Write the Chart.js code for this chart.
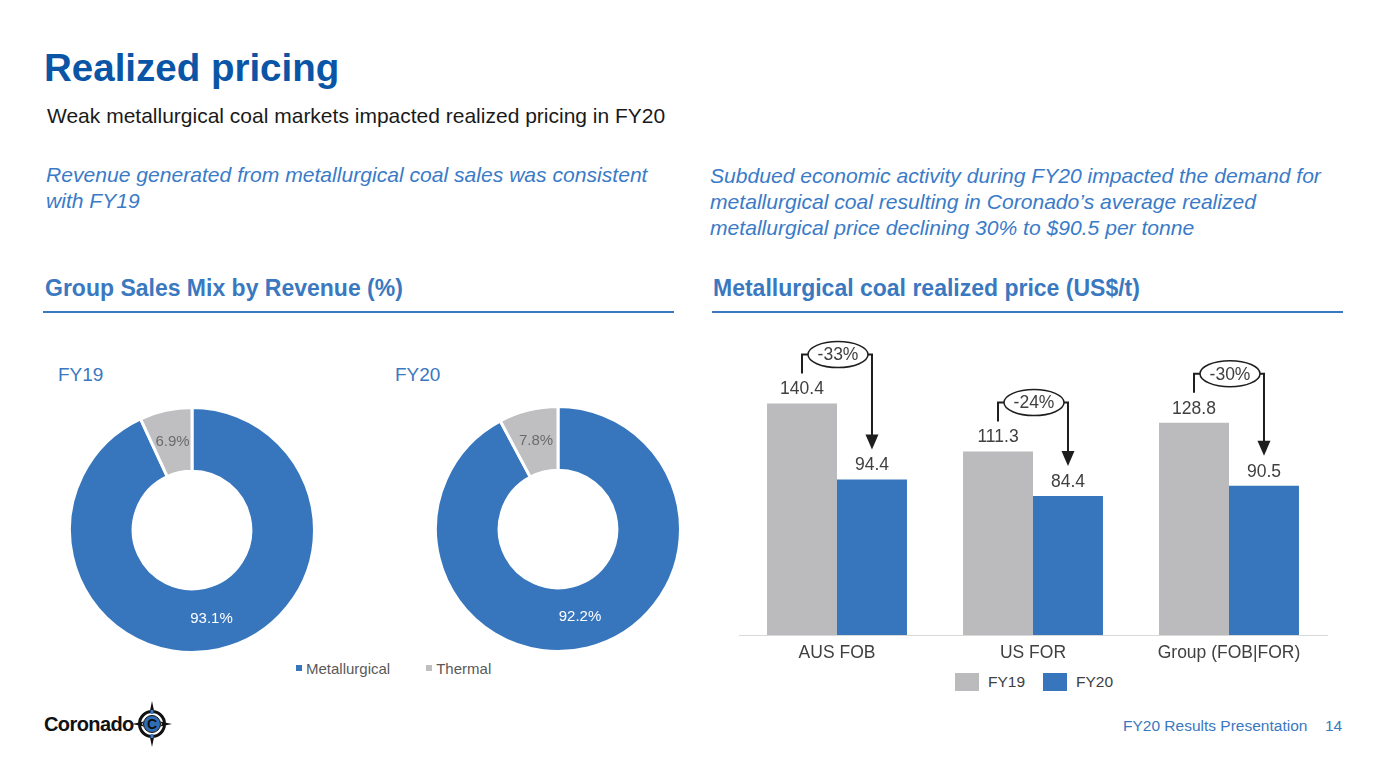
<!DOCTYPE html>
<html>
<head>
<meta charset="utf-8">
<script src="https://cdn.jsdelivr.net/npm/chart.js@4"></script>
<style>
  body { margin: 0; width: 1386px; height: 780px; background: #fff; font-family: "Liberation Sans", Arial, sans-serif; position: relative; overflow: hidden; }
  .abs { position: absolute; white-space: nowrap; }
  .title { left: 44px; top: 46px; font-size: 38.5px; font-weight: bold; color: #0b55a6; }
  .sub { left: 47px; top: 104px; font-size: 21px; color: #1a1a1a; }
  .ital { font-size: 21.1px; font-style: italic; color: #3a7bc8; line-height: 25.8px; white-space: normal; }
  .hdr { font-size: 23px; font-weight: bold; color: #3a78c0; }
  .rule { height: 2px; background: #3a78c0; }
  .fy { font-size: 19px; color: #3a78c0; }
  .leg { font-size: 15px; color: #595959; }
  .leg i { display: inline-block; width: 6px; height: 6px; margin-right: 4px; vertical-align: 3px; }
  .leg2 { font-size: 15.5px; color: #404040; display: flex; align-items: center; }
  .leg2 i { display: inline-block; width: 24px; height: 18px; margin-right: 9px; }
  .foot { font-size: 15.5px; color: #3a78c0; }
</style>
</head>
<body>
<div class="abs title">Realized pricing</div>
<div class="abs sub">Weak metallurgical coal markets impacted realized pricing in FY20</div>
<div class="abs ital" style="left:46px; top:162px; width:630px;">Revenue generated from metallurgical coal sales was consistent with FY19</div>
<div class="abs ital" style="left:710px; top:163px; width:640px;">Subdued economic activity during FY20 impacted the demand for metallurgical coal resulting in Coronado’s average realized metallurgical price declining 30% to $90.5 per tonne</div>

<div class="abs hdr" style="left:45px; top:275px;">Group Sales Mix by Revenue (%)</div>
<div class="abs rule" style="left:43px; top:311px; width:631px;"></div>
<div class="abs hdr" style="left:713px; top:275px;">Metallurgical coal realized price (US$/t)</div>
<div class="abs rule" style="left:712px; top:311px; width:631px;"></div>

<div class="abs fy" style="left:58px; top:364px;">FY19</div>
<div class="abs fy" style="left:395px; top:364px;">FY20</div>

<div class="abs" style="left:68px; top:406px; width:248px; height:248px;"><canvas id="mix19"></canvas></div>
<div class="abs" style="left:434px; top:405px; width:248px; height:248px;"><canvas id="mix20"></canvas></div>

<div class="abs leg" style="left:296px; top:660px;"><i style="background:#3776bd"></i>Metallurgical<span style="display:inline-block;width:36px"></span><i style="background:#bfbfc1"></i>Thermal</div>

<div class="abs" style="left:720px; top:330px; width:625px; height:340px;"><canvas id="priceGraph"></canvas></div>
<div class="abs leg2" style="left:955px; top:673px;"><i style="background:#bbbbbd"></i>FY19<span style="display:inline-block;width:18px"></span><i style="background:#3776bd"></i>FY20</div>

<div class="abs" style="left:44px; top:701px; display:flex; align-items:center;">
  <span style="font-size:20px; font-weight:bold; color:#111; letter-spacing:-0.6px;">Coronado</span>
  <svg width="40" height="46" viewBox="0 0 40 46" style="margin-left:-2px">
    <polygon points="20,0 22.5,12 20,10 17.5,12" fill="#111"/>
    <polygon points="20,46 22.5,34 20,36 17.5,34" fill="#111"/>
    <polygon points="0,23 12,20.5 10,23 12,25.5" fill="#111"/>
    <polygon points="40,23 28,20.5 30,23 28,25.5" fill="#111"/>
    <circle cx="20" cy="23" r="12.5" fill="none" stroke="#111" stroke-width="3"/>
    <rect x="18.5" y="9" width="3" height="4" fill="#3a7bc8"/>
    <rect x="18.5" y="33" width="3" height="4" fill="#3a7bc8"/>
    <circle cx="20" cy="23" r="8.5" fill="#2f6db5" stroke="#111" stroke-width="1"/>
    <text x="20" y="28" font-size="14" font-weight="bold" text-anchor="middle" fill="#111" font-family="Liberation Sans">C</text>
  </svg>
</div>
<div class="abs foot" style="left:1123px; top:717px;">FY20 Results Presentation</div>
<div class="abs foot" style="left:1325px; top:717px;">14</div>

<script>
// Sales mix (% of revenue)
const mixLabels = ['Metallurgical', 'Thermal'];
const mixFY19 = [93.1, 6.9];
const mixFY20 = [92.2, 7.8];

// Realized price (US$/t)
const priceCategories = ['AUS FOB', 'US FOR', 'Group (FOB|FOR)'];
const priceFY19 = [140.4, 111.3, 128.8];
const priceFY20 = [94.4, 84.4, 90.5];
const priceChange = ['-33%', '-24%', '-30%'];

const BLUE = '#3776bd';
const GREY = '#bbbbbd';
const FONT = '"Liberation Sans", Arial, sans-serif';

// write percentages inside the doughnut slices
const sliceLabels = {
    id: 'sliceLabels',
    afterDatasetsDraw(chart) {
        const ctx = chart.ctx;
        const meta = chart.getDatasetMeta(0);
        ctx.save();
        ctx.font = '15px ' + FONT;
        ctx.textAlign = 'center';
        ctx.textBaseline = 'middle';
        meta.data.forEach((arc, i) => {
            const p = arc.tooltipPosition();
            ctx.fillStyle = i === 0 ? '#ffffff' : '#6b6b6b';
            ctx.fillText(chart.data.datasets[0].data[i].toFixed(1) + '%', p.x, p.y);
        });
        ctx.restore();
    }
};

function makeMix(id, values) {
    return new Chart(document.getElementById(id), {
        type: 'doughnut',
        data: {
            labels: mixLabels,
            datasets: [{
                data: values,
                backgroundColor: [BLUE, '#bfbfc1'],
                borderColor: '#ffffff',
                borderWidth: 3
            }]
        },
        options: {
            responsive: true,
            maintainAspectRatio: false,
            animation: false,
            cutout: '48%',
            plugins: { legend: { display: false }, tooltip: { enabled: false } }
        },
        plugins: [sliceLabels]
    });
}
makeMix('mix19', mixFY19);
makeMix('mix20', mixFY20);

// value labels above bars
const barValues = {
    id: 'barValues',
    afterDatasetsDraw(chart) {
        const ctx = chart.ctx;
        ctx.save();
        ctx.font = '17.5px ' + FONT;
        ctx.fillStyle = '#404040';
        ctx.textAlign = 'center';
        ctx.textBaseline = 'middle';
        chart.data.datasets.forEach((ds, d) => {
            chart.getDatasetMeta(d).data.forEach((bar, i) => {
                ctx.fillText(ds.data[i].toFixed(1), bar.x, bar.y - 14);
            });
        });
        ctx.restore();
    }
};

// bracket + ellipse + arrow from FY19 bar to FY20 bar
const changeArrows = {
    id: 'changeArrows',
    afterDatasetsDraw(chart) {
        const ctx = chart.ctx;
        const m0 = chart.getDatasetMeta(0).data;
        const m1 = chart.getDatasetMeta(1).data;
        ctx.save();
        ctx.lineWidth = 2;
        m0.forEach((b0, i) => {
            const b1 = m1[i];
            const lx = b0.x, rx = b1.x, cx = (lx + rx) / 2 + 1;
            const ey = b0.y - 49;
            const by = b0.y - 30;
            const ty = b1.y - 30;
            const ew = 30, eh = 13;
            ctx.strokeStyle = '#1e1e1e';
            ctx.fillStyle = '#1e1e1e';
            ctx.beginPath();
            ctx.moveTo(lx, by);
            ctx.lineTo(lx, ey);
            ctx.lineTo(cx - ew, ey);
            ctx.moveTo(cx + ew, ey);
            ctx.lineTo(rx, ey);
            ctx.lineTo(rx, ty - 12);
            ctx.stroke();
            ctx.beginPath();
            ctx.moveTo(rx - 6.5, ty - 15);
            ctx.lineTo(rx + 6.5, ty - 15);
            ctx.lineTo(rx, ty);
            ctx.closePath();
            ctx.fill();
            ctx.beginPath();
            ctx.ellipse(cx, ey, ew, eh, 0, 0, Math.PI * 2);
            ctx.fillStyle = '#ffffff';
            ctx.fill();
            ctx.lineWidth = 1.5;
            ctx.stroke();
            ctx.lineWidth = 2;
            ctx.fillStyle = '#404040';
            ctx.font = '17.5px ' + FONT;
            ctx.textAlign = 'center';
            ctx.textBaseline = 'middle';
            ctx.fillText(priceChange[i], cx, ey + 1);
        });
        ctx.restore();
    }
};

const priceChart = new Chart(document.getElementById('priceGraph'), {
    type: 'bar',
    data: {
        labels: priceCategories,
        datasets: [
            { label: 'FY19', data: priceFY19, backgroundColor: GREY },
            { label: 'FY20', data: priceFY20, backgroundColor: BLUE }
        ]
    },
    options: {
        responsive: true,
        maintainAspectRatio: false,
        animation: false,
        layout: { padding: { left: 19, right: 18, top: 10, bottom: 6 } },
        datasets: { bar: { barPercentage: 1, categoryPercentage: 0.714 } },
        scales: {
            x: {
                grid: { display: false },
                border: { color: '#d9d9d9', width: 1 },
                ticks: { color: '#404040', font: { family: FONT, size: 17.5 }, padding: 0 }
            },
            y: { display: false, min: 0, max: 179 }
        },
        plugins: {
            tooltip: { enabled: false },
            legend: { display: false }
        }
    },
    plugins: [barValues, changeArrows]
});
</script>
</body>
</html>
